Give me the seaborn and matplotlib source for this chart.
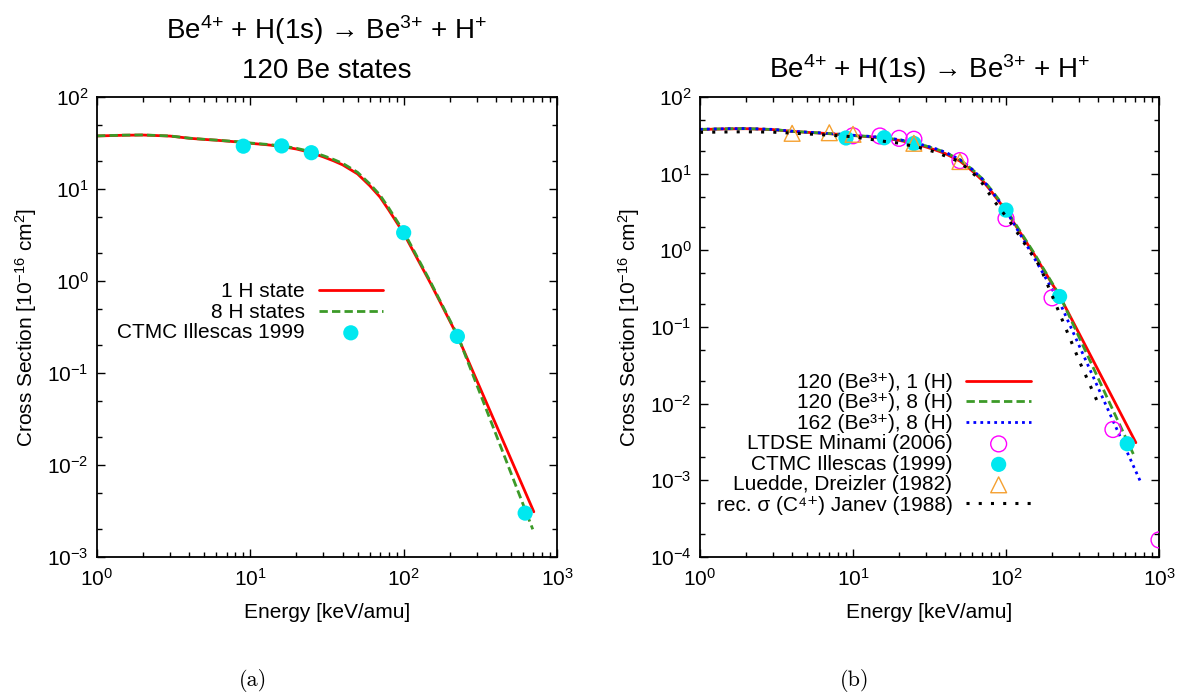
import matplotlib
matplotlib.use("Agg")
import matplotlib.pyplot as plt
import numpy as np
import seaborn as sns
from matplotlib.ticker import LogLocator, NullFormatter

# 120 Be states, 1 H state
energy_1h = [1, 1.5, 2, 3, 4, 5, 6, 8, 10, 13, 16, 20, 25, 30, 35, 40, 50, 60, 70, 80, 100, 150, 225, 706]
sigma_1h = [37.7, 38.4, 38.6, 37.6, 35.6, 34.6, 33.9, 32.6, 31.4, 30.2, 29.0, 27.2, 24.8, 22.3,
            20.2, 18.3, 14.6, 10.9, 8.2, 5.9, 3.3, 0.94, 0.25, 0.0031]

# 120 Be states, 8 H states
energy_8h = [1, 1.5, 2, 3, 4, 5, 6, 8, 10, 13, 16, 20, 25, 30, 35, 40, 50, 60, 70, 80, 100, 150, 225, 695]
sigma_8h = [37.8, 38.5, 38.7, 37.7, 35.7, 34.7, 34.0, 32.8, 31.6, 30.5, 29.4, 27.7, 25.4, 23.0,
            20.9, 19.0, 15.2, 11.4, 8.6, 6.2, 3.45, 0.97, 0.255, 0.0020]

# 162 Be states, 8 H states
energy_162 = [1, 1.5, 2, 3, 4, 5, 6, 8, 10, 13, 16, 20, 25, 30, 35, 40, 50, 60, 70, 80, 100, 150, 224, 770]
sigma_162 = [37.9, 38.6, 38.8, 37.8, 35.8, 34.8, 34.1, 32.9, 31.7, 30.6, 29.5, 27.8, 25.5, 23.1,
             21.0, 19.1, 15.3, 11.4, 8.5, 6.0, 3.3, 0.85, 0.21, 0.00089]

# recommended sigma (C4+), Janev 1988
energy_janev = [1, 1.5, 2, 3, 5, 7, 10, 16, 20, 27, 35, 50, 67, 83, 106, 167, 224, 305, 395]
sigma_janev = [34.6, 35.0, 35.2, 34.8, 33.0, 31.8, 30.3, 26.4, 25.0, 22.0, 19.0, 14.2, 8.5, 4.5,
               2.37, 0.61, 0.15, 0.034, 0.0107]

# CTMC Illescas 1999
energy_ctmc = [9, 16, 25, 100, 224, 620]
sigma_ctmc = [29.2, 29.4, 24.8, 3.35, 0.25, 0.0030]

# LTDSE Minami 2006
energy_minami = [10, 15, 20, 25, 50, 100, 200, 500, 1000]
sigma_minami = [31.2, 31.0, 28.9, 28.1, 14.8, 2.6, 0.24, 0.0046, 0.000167]

# Luedde, Dreizler 1982
energy_luedde = [4, 7, 10, 25, 50]
sigma_luedde = [33.6, 34.2, 32.6, 24.9, 14.4]

RED = "#ff0000"
GREEN = "#3c9a28"
BLUE = "#0000ff"
CYAN = "#00e8f0"
MAGENTA = "#ff00ff"
ORANGE = "#f5a030"

TITLE = "Be$^{4{+}}$ + H(1s) → Be$^{3{+}}$ + H$^{+}$"
YLABEL = "Cross Section [10$^{-16}$ cm$^{2}$]"


def style_axes(ax, ymin, ymax):
    ax.set_xscale("log")
    ax.set_yscale("log")
    ax.set_xlim(1, 1000)
    ax.set_ylim(ymin, ymax)
    ax.xaxis.set_major_locator(LogLocator(base=10, numticks=10))
    ax.xaxis.set_minor_locator(LogLocator(base=10, subs=np.arange(2, 10), numticks=10))
    ax.yaxis.set_major_locator(LogLocator(base=10, numticks=10))
    ax.yaxis.set_minor_locator(LogLocator(base=10, subs=(2, 5), numticks=10))
    ax.xaxis.set_minor_formatter(NullFormatter())
    ax.yaxis.set_minor_formatter(NullFormatter())
    ax.tick_params(which="both", direction="in", top=True, right=True, color="black",
                   labelcolor="black")
    ax.tick_params(which="major", length=6, width=1, labelsize=15)
    ax.tick_params(axis="x", which="major", pad=8)
    ax.tick_params(axis="y", which="major", pad=6)
    ax.tick_params(which="minor", length=3.5, width=1)
    for sp in ax.spines.values():
        sp.set_linewidth(1.3)
        sp.set_color("black")
    ax.set_xlabel("Energy [keV/amu]", fontsize=15, labelpad=9, color="black")
    ax.set_ylabel(YLABEL, fontsize=15, labelpad=6, color="black")


def make_legend(ax, order, anchor):
    handles, labels = ax.get_legend_handles_labels()
    lookup = dict(zip(labels, handles))
    ax.legend(
        handles=[lookup[k] for k in order],
        labels=order,
        loc="upper right",
        bbox_to_anchor=anchor,
        markerfirst=False,
        frameon=False,
        fontsize=15,
        handlelength=3.1,
        handletextpad=0.67,
        labelspacing=0.07,
        borderpad=0,
        borderaxespad=0,
        labelcolor="black",
    )


def main():
    sns.set_theme(style="ticks")
    plt.rcParams["font.family"] = ["Liberation Sans", "DejaVu Sans"]
    plt.rcParams["mathtext.default"] = "regular"
    plt.rcParams["text.color"] = "black"

    fig = plt.figure(figsize=(11.81, 6.97), dpi=100)
    ax_a = fig.add_axes([97 / 1181, 1 - 557 / 697, 460 / 1181, 460 / 697])
    ax_b = fig.add_axes([700 / 1181, 1 - 557 / 697, 459 / 1181, 460 / 697])

    # (a) 120 Be states
    sns.lineplot(x=energy_1h, y=sigma_1h, ax=ax_a, color=RED, linewidth=2, label="1 H state")
    sns.lineplot(x=energy_8h, y=sigma_8h, ax=ax_a, color=GREEN, linewidth=2,
                 linestyle=(0, (3, 1.5)), label="8 H states")
    sns.scatterplot(x=energy_ctmc, y=sigma_ctmc, ax=ax_a, color=CYAN, edgecolor="none",
                    s=120, zorder=3, label="CTMC Illescas 1999")
    style_axes(ax_a, 1e-3, 1e2)
    ax_a.set_title(TITLE + "\n120 Be states", fontsize=20, pad=14, linespacing=1.55)
    make_legend(ax_a, ["1 H state", "8 H states", "CTMC Illescas 1999"], (0.622, 0.597))

    # (b) comparison
    lab_r = "120 (Be³⁺), 1 (H)"
    lab_g = "120 (Be³⁺), 8 (H)"
    lab_b = "162 (Be³⁺), 8 (H)"
    lab_m = "LTDSE Minami (2006)"
    lab_c = "CTMC Illescas (1999)"
    lab_l = "Luedde, Dreizler (1982)"
    lab_j = "rec. σ (C⁴⁺) Janev (1988)"
    sns.lineplot(x=energy_1h, y=sigma_1h, ax=ax_b, color=RED, linewidth=2, label=lab_r)
    sns.lineplot(x=energy_8h, y=sigma_8h, ax=ax_b, color=GREEN, linewidth=2,
                 linestyle=(0, (3, 1.5)), label=lab_g)
    sns.lineplot(x=energy_162, y=sigma_162, ax=ax_b, color=BLUE, linewidth=2,
                 linestyle=(0, (1, 1.5)), label=lab_b)
    sns.scatterplot(x=energy_minami, y=sigma_minami, ax=ax_b, facecolor="none",
                    edgecolor=MAGENTA, linewidth=1, s=130, zorder=3, label=lab_m)
    sns.scatterplot(x=energy_ctmc, y=sigma_ctmc, ax=ax_b, color=CYAN, edgecolor="none",
                    s=120, zorder=3, label=lab_c)
    sns.scatterplot(x=energy_luedde, y=sigma_luedde, ax=ax_b, marker="^", facecolor="none",
                    edgecolor=ORANGE, linewidth=1, s=130, zorder=3, label=lab_l)
    sns.lineplot(x=energy_janev, y=sigma_janev, ax=ax_b, color="black", linewidth=2.2,
                 linestyle=(0, (1, 3)), zorder=4, label=lab_j)
    style_axes(ax_b, 1e-4, 1e2)
    ax_b.set_title(TITLE, fontsize=20, pad=14)
    make_legend(ax_b, [lab_r, lab_g, lab_b, lab_m, lab_c, lab_l, lab_j], (0.721, 0.400))

    fig.text(253 / 1181, 1 - 680 / 697, "(a)", family="cmr10", fontsize=16,
             ha="center", va="center")
    fig.text(855 / 1181, 1 - 680 / 697, "(b)", family="cmr10", fontsize=16,
             ha="center", va="center")

    fig.savefig("out.png", dpi=100)
    plt.close(fig)


if __name__ == "__main__":
    main()
